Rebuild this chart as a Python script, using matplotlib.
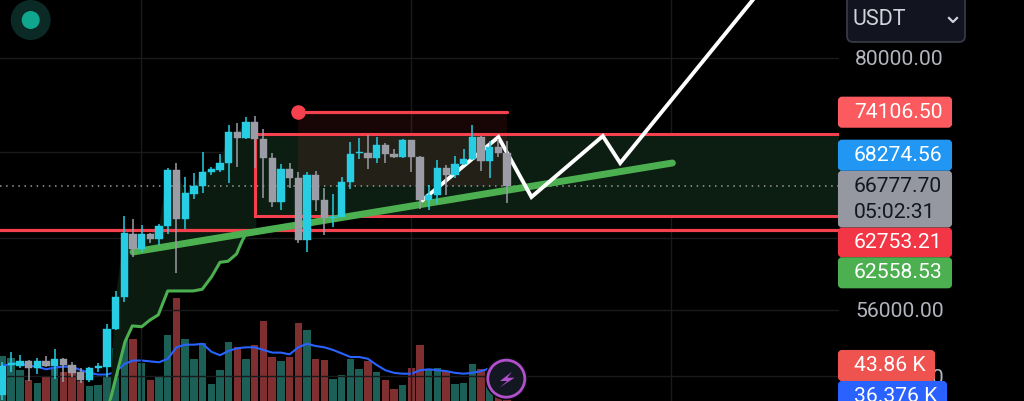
import numpy as np
import matplotlib
matplotlib.use('Agg')
import matplotlib.pyplot as plt
from matplotlib.patches import Circle, FancyBboxPatch, Polygon, Rectangle

plt.rcParams['font.family'] = ['Roboto', 'DejaVu Sans']

# candles
opens = [49660, 51810, 51730, 52100, 51610, 52100, 51730, 52230, 51810, 51280,
         50720, 51610, 51680, 54490, 57010, 62390, 61080, 62360, 61920, 63100,
         68270, 63670, 66020, 66740, 68110, 68270, 68920, 72040, 71400, 73040,
         71330, 69440, 65250, 68370, 67530, 61860, 67790, 65430, 63760, 63900,
         67150, 69960, 69960, 69440, 70730, 69810, 69510, 71230, 69570, 65430,
         65900, 68440, 67760, 68850, 69310, 71560, 69120, 70560, 69960]
closes = [51760, 51950, 52100, 51610, 52100, 51730, 52230, 51810, 51250, 50720,
          51570, 51710, 54490, 57010, 62420, 61080, 62360, 61920, 63100, 68270,
          63670, 66060, 66740, 68110, 68340, 68920, 72040, 71400, 73040, 71330,
          69440, 65250, 68370, 67530, 61860, 67790, 65430, 63760, 63900, 67150,
          69840, 70060, 69440, 70730, 69810, 69510, 71230, 69570, 65430, 65900,
          68440, 67760, 68850, 69310, 71560, 69120, 70560, 69940, 66777.7]
highs = [52030, 52790, 52540, 52175, 52340, 52470, 52990, 52340, 52050, 51570,
         51640, 51980, 54880, 57550, 63960, 63670, 63130, 62470, 63220, 68440,
         68920, 67570, 67950, 70000, 68530, 69840, 72760, 73000, 73560, 73700,
         72320, 69960, 68850, 68920, 68110, 68050, 68180, 66530, 65990, 67570,
         71060, 71460, 71730, 71500, 70900, 70300, 71360, 71230, 69670, 66840,
         69250, 68730, 69670, 70300, 72760, 71660, 71130, 71360, 71160]
lows = [49300, 51320, 51590, 50670, 51150, 51680, 50770, 50600, 50960, 50530,
        50600, 51320, 50960, 54440, 56660, 60390, 60760, 61600, 61370, 62330,
        58990, 62800, 65530, 66060, 67790, 68080, 66990, 68590, 71300, 68440,
        65590, 64820, 64520, 66530, 61600, 60760, 64450, 62270, 63010, 63850,
        66430, 69310, 68340, 68920, 68980, 69440, 69440, 68080, 64580, 64520,
        65040, 65900, 67500, 68780, 69250, 68180, 67500, 69570, 65140]

# volume in K
volumes = [51, 48.5, 35, 24, 21, 28, 39, 33, 32, 23, 17, 18, 28, 60.6, 104, 70,
           43.6, 24, 27, 75, 117, 70, 48, 66, 19, 35, 67, 61, 48, 64, 91, 50, 45,
           50, 89, 81, 48, 47, 25, 29, 48, 36, 45, 33, 24, 14, 18, 38, 64, 35, 38,
           34, 19, 21, 42, 36, 37, 5, 3]
vol_sides = ['g', 'g', 'g', 'r', 'g', 'r', 'g', 'r', 'r', 'r', 'g', 'g', 'g', 'g', 'g',
             'r', 'g', 'r', 'g', 'g', 'r', 'g', 'g', 'g', 'g', 'g', 'g', 'r', 'g', 'r',
             'r', 'r', 'g', 'r', 'r', 'g', 'r', 'r', 'g', 'g', 'g', 'g', 'r', 'g', 'r',
             'r', 'g', 'r', 'r', 'g', 'g', 'r', 'g', 'g', 'g', 'r', 'g', 'r', 'r']
vol_ma = [40, 42, 43, 40, 39, 36, 38, 39, 39, 35, 32, 30, 30, 33, 42, 46, 46, 45, 44,
          48, 61, 64, 64, 65, 56, 52, 57, 60, 61, 61, 58, 55, 55, 53, 61, 65, 62.5,
          61, 58, 54, 50, 50, 48, 41, 35, 32, 31, 31, 35, 36, 35, 34, 32, 31, 32, 34, 37]

# stepped green trend line
trend_x = [12.35, 14.08, 14.92, 16, 16.95, 17.9, 18.99, 21.93, 22.96, 24.04, 25, 25.92,
           26.9, 27.5, 28]
trend_y = [49230, 53540, 54750, 54690, 55210, 55610, 57530, 57530, 57670, 58700, 59910,
           60000, 60620, 61680, 62420]

# hand drawn forecast
white_x = [48.3, 57, 60.8, 69, 71, 86.7]
white_y = [65430, 71530, 65710, 71630, 68950, 87460]

support_x = [15, 77]
support_y = [60790, 68950]

grid_prices = [80000, 70000, 62000, 56000, 51000]
label_prices = [80000, 56000, 51000]
time_ticks = [15.95, 46.9, 76.85]
last_price = 66777.7
stop_price = 74106.5
line_price = 62753.21
box_top = 71840
box_bottom = 63970

tags = [('74106.50', 96.7, 127.7, '#fb5a5e', 'white'),
        ('68274.56', 139.7, 170.7, '#2196f3', 'white'),
        ('62753.21', 227.7, 257.3, '#f23645', 'white'),
        ('62558.53', 257.3, 288.3, '#4caf50', 'white')]

RED = '#f5404e'
CYAN = '#27cde2'
GREY = '#9b9ca6'
W, H = 1024, 401

fig = plt.figure(figsize=(W / 100, H / 100), dpi=100, facecolor='black')
pos = [0, 0, 839 / W, 1]

# volume pane sits behind the candles
ax_vol = fig.add_axes(pos, zorder=0, facecolor='black')
ax = fig.add_axes(pos, zorder=1, facecolor='none')

idx = np.arange(len(opens))
xlim = (-0.287, 96.15)

vol_colors = ['#1c5f57' if s == 'g' else '#7f2f2f' for s in vol_sides]
ax_vol.bar(idx, volumes, width=0.85, color=vol_colors)
ax_vol.plot(np.arange(len(vol_ma)), vol_ma, color='#2962ff', lw=1.5)
ax_vol.set_xlim(xlim)
ax_vol.set_ylim(0, 455.7)
ax_vol.axis('off')

ax.set_yscale('log')
ax.set_xlim(xlim)
ax.set_ylim(49232, 86840)
for s in ax.spines.values():
    s.set_visible(False)

ax.set_xticks(time_ticks)
ax.set_xticklabels([])
ax.tick_params(axis='x', length=0)
ax.yaxis.tick_right()
ax.set_yticks(grid_prices)
ax.set_yticklabels(['%.2f' % p if p in label_prices else '' for p in grid_prices])
ax.minorticks_off()
ax.tick_params(axis='y', length=0, pad=11.5, labelsize=15.2, labelcolor='#b2b5be')
ax.grid(True, color='#1a1a1d', lw=1)
ax.set_axisbelow(True)

# shaded zones
ax.add_patch(Rectangle((29, box_bottom), 80, box_top - box_bottom, fc='#0c1d11', ec='none', zorder=1))
ax.add_patch(Rectangle((34, last_price), 24, stop_price - last_price, fc=RED, alpha=0.1, ec='none', zorder=1.2))
fill_x = list(trend_x) + [29.2] + list(idx[29:12:-1])
fill_y = list(trend_y) + [trend_y[-1]] + list(np.maximum(opens, closes)[29:12:-1])
ax.add_patch(Polygon(list(zip(fill_x, fill_y)), fc='#0c1b10', ec='none', zorder=1))

ax.axhline(last_price, color='#9a9a9a', lw=1.1, ls=(0, (1, 3)), zorder=2)
ax.axhline(line_price, color=RED, lw=2.3, zorder=3)
ax.add_patch(Rectangle((29, box_bottom), 80, box_top - box_bottom, fc='none', ec=RED, lw=2.2, zorder=3))
ax.plot([34, 58], [stop_price, stop_price], color=RED, lw=2.3, solid_capstyle='round', zorder=3)
ax.plot([34], [stop_price], 'o', color=RED, ms=10.5, mew=0, zorder=3)

ax.plot(trend_x, trend_y, color='#4caf50', lw=2.2, zorder=3)
ax.plot(support_x, support_y, color='#4caf50', lw=5, solid_capstyle='round', zorder=3.5)
ax.plot(white_x, white_y, color='white', lw=2.8, solid_joinstyle='miter', zorder=4)

# candles
colors = [CYAN if c >= o else GREY for o, c in zip(opens, closes)]
ax.vlines(idx, lows, highs, colors=colors, lw=1.1, zorder=5)
bottoms = np.minimum(opens, closes)
heights = np.abs(np.array(closes) - np.array(opens))
ax.bar(idx, heights, bottom=bottoms, width=0.84, color=colors, edgecolor=colors, lw=0.3, zorder=6)

# app chrome in pixel coordinates
ui = fig.add_axes([0, 0, 1, 1], zorder=2, facecolor='none')
ui.set_xlim(0, W)
ui.set_ylim(H, 0)
ui.axis('off')


def tag(y0, y1, color, x1=953):
    ui.add_patch(FancyBboxPatch((839, y0 + 1), x1 - 841, y1 - y0 - 2, boxstyle='round,pad=0,rounding_size=3',
                                mutation_aspect=1, fc=color, ec=color, lw=1.5))


ui.add_patch(FancyBboxPatch((847, -8), 118, 50, boxstyle='round,pad=0,rounding_size=6',
                            fc='#12151f', ec='#3a3d47', lw=1.2))
ui.text(853, 19.5, 'USDT', color='#d1d4dc', fontsize=15.5, va='center')
ui.plot([949, 953, 957], [18, 22, 18], color='#d1d4dc', lw=1.6)

tag(170.7, 227.5, '#9598a1')
for label, y0, y1, color, tc in tags:
    tag(y0, y1, color)
    ui.text(854, (y0 + y1) / 2, label, color=tc, fontsize=15.2, va='center')
ui.text(854, 186, '66777.70', color='#131722', fontsize=15.2, va='center')
ui.text(854, 212, '05:02:31', color='#131722', fontsize=15.2, va='center')

tag(350, 381, '#ef5350', x1=936)
ui.text(854, 365.5, '43.86 K', color='white', fontsize=15.2, va='center')
tag(381, 410, '#2962ff', x1=948)
ui.text(854, 396, '36.376 K', color='white', fontsize=15.2, va='center')

# status dot
ui.add_patch(Circle((30.7, 20), 20, fc='#0b2a26', ec='none'))
ui.add_patch(Circle((30.7, 20), 9, fc='#10a68d', ec='none'))

# lightning button
cx, cy = 506.3, 378.7
ui.add_patch(Circle((cx, cy), 21.5, fc='#0a0c12', ec='none'))
ui.add_patch(Circle((cx, cy), 18.5, fc='#131722', ec='#b24fcb', lw=2))
bolt = [(5.7, -7), (-6.3, 2.3), (1, 2.3), (-6.3, 8.7), (8.3, -1), (1, -1)]
ui.add_patch(Polygon([(cx + a, cy + b) for a, b in bolt], fc='#b24fcb', ec='none'))

fig.savefig('out.png', dpi=100, facecolor='black')
